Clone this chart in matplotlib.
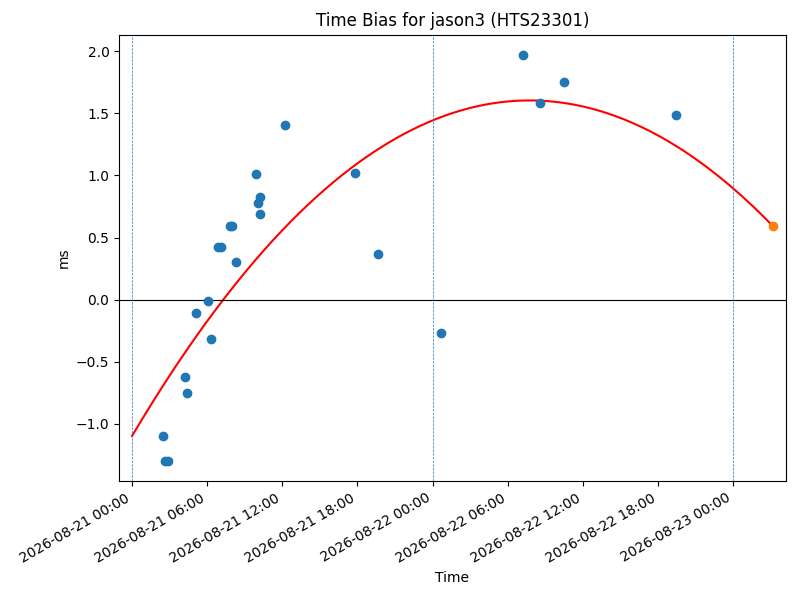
import numpy as np
import matplotlib
matplotlib.use("Agg")
import matplotlib.pyplot as plt
import matplotlib.dates as mdates
from datetime import datetime, timedelta

base = datetime(2026, 8, 21, 0, 0)

# observation times (hours after 2026-08-21 00:00) and time bias (ms)
obs_hours = [2.44, 2.66, 2.90, 4.20, 4.36, 5.08, 6.04, 6.28, 6.85, 7.09,
             7.81, 8.01, 8.27, 9.87, 10.08, 10.22, 10.22, 12.18, 17.77,
             19.64, 24.64, 31.19, 32.54, 34.46, 43.40]
obs_bias = [-1.10, -1.30, -1.30, -0.62, -0.75, -0.11, -0.01, -0.32, 0.42, 0.42,
            0.59, 0.59, 0.30, 1.01, 0.78, 0.83, 0.69, 1.41, 1.02,
            0.37, -0.27, 1.97, 1.58, 1.75, 1.49]
# quadratic fit coefficients (a*t^2 + b*t + c, t in hours)
fit_coef = [-0.002684, 0.1704, -1.10]
fit_start_hour = 0.0
pred_hour = 51.15

title = "Time Bias for jason3 (HTS23301)"
xlabel = "Time"
ylabel = "ms"

t = np.array(obs_hours)
y = np.array(obs_bias)
tf = np.linspace(fit_start_hour, pred_hour, 300)
yf = np.polyval(fit_coef, tf)
pred_val = np.polyval(fit_coef, pred_hour)

to_dt = lambda h: [base + timedelta(hours=float(x)) for x in np.atleast_1d(h)]

fig = plt.figure(figsize=(8, 6), dpi=100)
ax = fig.add_axes([0.149, 0.198, 0.833, 0.744])

ax.scatter(to_dt(t), y, color="tab:blue", zorder=3)
ax.plot(to_dt(tf), yf, color="red", lw=1.5, zorder=2)
ax.scatter(to_dt(pred_hour), [pred_val], color="tab:orange", zorder=4)
ax.axhline(0, color="black", lw=0.8)
for d in range(3):
    ax.axvline(base + timedelta(days=d), color="tab:blue", ls="--", lw=0.5)

ax.set_xlim(base + timedelta(hours=-1.02), base + timedelta(hours=52.18))
ax.xaxis.set_major_locator(mdates.HourLocator(byhour=[0, 6, 12, 18]))
ax.xaxis.set_major_formatter(mdates.DateFormatter("%Y-%m-%d %H:%M"))
for lab in ax.get_xticklabels():
    lab.set_rotation(30)
    lab.set_ha("right")
ax.set_title(title)
ax.set_xlabel(xlabel)
ax.set_ylabel(ylabel)

fig.savefig("out.png", dpi=100)
